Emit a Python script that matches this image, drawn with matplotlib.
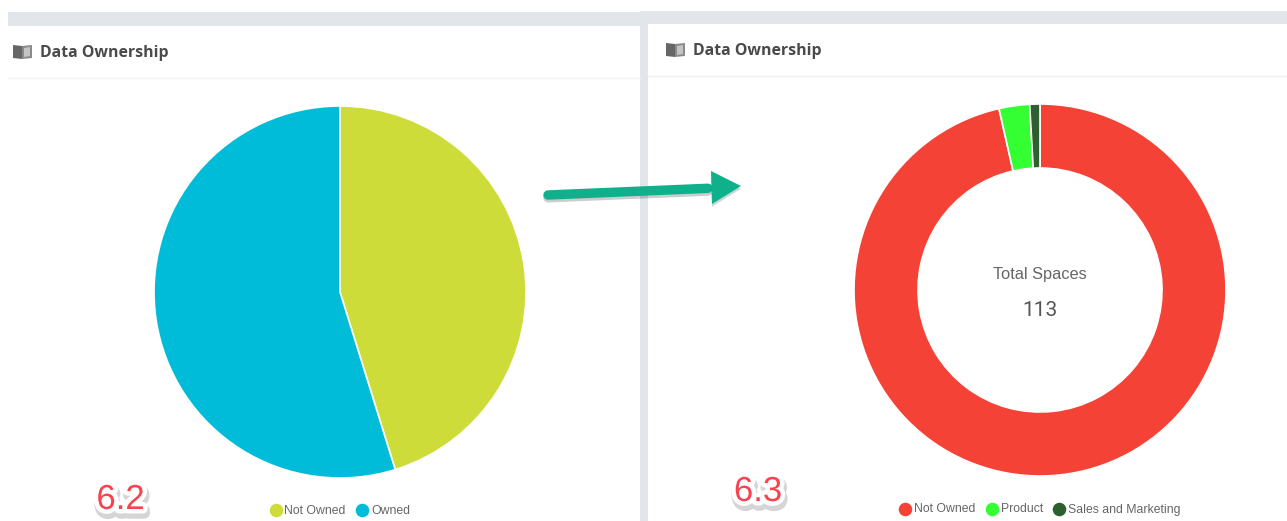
import matplotlib
matplotlib.use('Agg')
import matplotlib.pyplot as plt
import matplotlib.patheffects as pe
from matplotlib.patches import Rectangle, Polygon

W, H = 1287, 521

title = 'Data Ownership'
left_labels = ['Not Owned', 'Owned']
left_values = [45.2, 54.8]
left_colors = ['#cddc39', '#00bcd8']
right_labels = ['Not Owned', 'Product', 'Sales and Marketing']
right_values = [109, 3, 1]
right_colors = ['#f44336', '#33ff33', '#2e5f2e']
center_title = 'Total Spaces'
center_value = '113'

plt.rcParams['font.family'] = ['Liberation Sans', 'DejaVu Sans']

fig = plt.figure(figsize=(W / 100, H / 100), dpi=100, facecolor='white')

# page background drawn in pixel coords
bg = fig.add_axes([0, 0, 1, 1])
bg.set_xlim(0, W)
bg.set_ylim(H, 0)
bg.axis('off')
gray = '#e2e5e9'
bg.add_patch(Rectangle((8, 12), 632, 14, color=gray, lw=0))
bg.add_patch(Rectangle((640, 11), 647, 13, color=gray, lw=0))
bg.add_patch(Rectangle((640, 11), 8, 510, color=gray, lw=0))
bg.plot([8, 640], [77.5, 77.5], color='#f1f2f4', lw=1)
bg.plot([648, 1287], [75.5, 75.5], color='#eeeff2', lw=1)


def book(x, y):
    bg.add_patch(Polygon([(x, y), (x + 9, y + 1), (x + 9, y + 14), (x, y + 13)], color='#666666', lw=0))
    bg.add_patch(Polygon([(x + 9, y + 1), (x + 19, y), (x + 19, y + 13), (x + 9, y + 14)], color='#8a8a8a', lw=0))
    bg.add_patch(Polygon([(x + 11, y + 3), (x + 17, y + 2), (x + 17, y + 11), (x + 11, y + 12)], color='#c4c4c4', lw=0))


book(13, 45)
book(666, 43)
bg.text(40, 53, title, fontsize=11.4, fontweight='bold', color='#4a4a4a', va='center', family=['Open Sans', 'DejaVu Sans'])
bg.text(693, 51, title, fontsize=11.4, fontweight='bold', color='#4a4a4a', va='center', family=['Open Sans', 'DejaVu Sans'])


def pie_axes(cx, cy, r):
    ax = fig.add_axes([(cx - r) / W, 1 - (cy + r) / H, 2 * r / W, 2 * r / H])
    ax.set_aspect('equal')
    return ax


ax1 = pie_axes(340, 292, 186)
ax1.pie(left_values, colors=left_colors, startangle=90, counterclock=False, radius=1,
        wedgeprops=dict(edgecolor='white', linewidth=1.2))
ax1.set_xlim(-1, 1)
ax1.set_ylim(-1, 1)

ax2 = pie_axes(1040, 290, 186)
ax2.pie(right_values, colors=right_colors, startangle=90, counterclock=False, radius=1,
        wedgeprops=dict(width=64 / 186, edgecolor='white', linewidth=1.2))
ax2.set_xlim(-1, 1)
ax2.set_ylim(-1, 1)

# top layer for arrow, legends, notes
top = fig.add_axes([0, 0, 1, 1])
top.set_xlim(0, W)
top.set_ylim(H, 0)
top.axis('off')
top.patch.set_alpha(0)

top.text(1040, 275, center_title, fontsize=11.8, color='#666666', ha='center', va='center')
top.text(1040, 310.5, center_value, fontsize=15, color='#555555', ha='center', va='center', family=['Roboto', 'DejaVu Sans'])

arrow_fx = [pe.SimpleLineShadow(offset=(0, -2), alpha=0.2), pe.Normal()]
top.plot([548, 708], [195, 188.3], color='#0fb18c', lw=6.8, solid_capstyle='round', path_effects=arrow_fx)
head = Polygon([(711, 171), (741, 186), (712, 204)], color='#0fb18c', lw=0, zorder=5)
head.set_path_effects([pe.SimplePatchShadow(offset=(0, -2), alpha=0.2), pe.Normal()])
top.add_patch(head)


def legend(items, y, size):
    for x_dot, x_text, label, color in items:
        top.scatter([x_dot], [y], s=size, color=color, lw=0)
        top.text(x_text, y + 0.5, label, fontsize=8.8, color='#666666', va='center')


legend([(276, 284.5, left_labels[0], left_colors[0]),
        (362, 371.5, left_labels[1], left_colors[1])], 510, 95)
legend([(905, 913.5, right_labels[0], right_colors[0]),
        (992, 1000.5, right_labels[1], right_colors[1]),
        (1059, 1068, right_labels[2], right_colors[2])], 509, 95)

shadow_fx = [pe.SimpleLineShadow(offset=(1, -3), linewidth=8, foreground='#888888', alpha=0.35),
             pe.withStroke(linewidth=6.5, foreground='white')]
top.text(120.5, 499.5, '6.2', fontsize=25, color='#f8434f', ha='center', va='center', path_effects=shadow_fx)
top.text(758, 491.5, '6.3', fontsize=25, color='#f8434f', ha='center', va='center', path_effects=shadow_fx)

fig.savefig('out.png', dpi=100, facecolor='white')
